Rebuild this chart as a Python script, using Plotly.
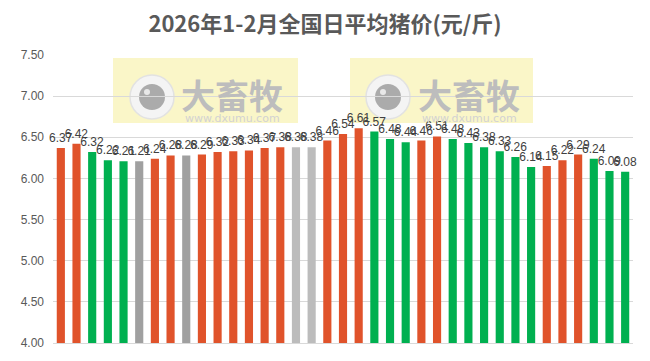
import plotly.graph_objects as go

# ---- data ----
days = list(range(1, 38))
prices = [6.37, 6.42, 6.32, 6.22, 6.21, 6.21, 6.24, 6.28, 6.28, 6.29,
          6.32, 6.33, 6.34, 6.37, 6.38, 6.38, 6.38, 6.46, 6.54, 6.61,
          6.57, 6.48, 6.44, 6.46, 6.51, 6.48, 6.43, 6.38, 6.33, 6.26,
          6.14, 6.15, 6.22, 6.29, 6.24, 6.09, 6.08]
labels = [f"{v:.2f}" for v in prices]
O, G, A, B = "#E0532B", "#00B050", "#A0A0A0", "#BCBCBC"
bar_colors = [O, O, G, G, G, A, O, O, A, O,
              O, O, O, O, O, B, B, O, O, O,
              G, G, G, O, O, G, G, G, G, G,
              G, O, O, O, G, G, G]
y_ticks = [4.0, 4.5, 5.0, 5.5, 6.0, 6.5, 7.0, 7.5]
title = "2026年1-2月全国日平均猪价(元/斤)"

W, H = 650, 361
L, R, T, B_ = 53, 17, 55, 18
pw, ph = W - L - R, H - T - B_

def px(x):
    return (x - L) / pw

def py(y):
    return (H - B_ - y) / ph

fig = go.Figure(go.Bar(
    x=days, y=prices, marker=dict(color=bar_colors, line=dict(width=0)),
    text=labels, textposition="outside", constraintext="none",
    textfont=dict(family="Liberation Sans", size=12, color="#404040"),
    cliponaxis=False, hoverinfo="skip"))

shapes, annotations = [], []
for (x0, x1, cx, tx) in [(113, 298, 152, 232), (350, 533, 388, 469)]:
    shapes.append(dict(type="rect", xref="paper", yref="paper", layer="below",
                       x0=px(x0), x1=px(x1), y0=py(123), y1=py(58),
                       fillcolor="#FAF6C8", line=dict(width=0)))
    cy = 97
    for r, col in [(22, "#F4F4F4"), (13, "#ABABAB")]:
        shapes.append(dict(type="circle", xref="paper", yref="paper", layer="below",
                           x0=px(cx - r), x1=px(cx + r), y0=py(cy + r), y1=py(cy - r),
                           fillcolor=col, line=dict(width=1.5 if r == 22 else 0, color="#E2E2E2")))
    shapes.append(dict(type="circle", xref="paper", yref="paper", layer="below",
                       x0=px(cx - 8), x1=px(cx - 2), y0=py(cy - 2), y1=py(cy - 8),
                       fillcolor="#E8E8E8", line=dict(width=0)))
    annotations.append(dict(text="<b>大畜牧</b>", xref="paper", yref="paper",
                            x=px(tx), y=py(95), xanchor="center", yanchor="middle",
                            showarrow=False,
                            font=dict(family="Noto Sans CJK SC", size=34, color="#BDBDBD")))
    annotations.append(dict(text="www.dxumu.com", xref="paper", yref="paper",
                            x=px(tx), y=py(118), xanchor="center", yanchor="middle",
                            showarrow=False,
                            font=dict(family="DejaVu Sans", size=11, color="#D2D2D2")))

fig.update_layout(
    width=W, height=H, margin=dict(l=L, r=R, t=T, b=B_),
    paper_bgcolor="white", plot_bgcolor="white",
    title=dict(text=f"<b>{title}</b>", x=0.5, xanchor="center", y=1 - 24 / H, yanchor="middle",
               font=dict(family="Noto Sans CJK SC", size=22, color="#595959")),
    bargap=0.48, showlegend=False,
    shapes=shapes, annotations=annotations,
    xaxis=dict(range=[0.5, 37.5], showticklabels=False, ticks="", showgrid=False,
               showline=True, linecolor="#D9D9D9", linewidth=1, zeroline=False, fixedrange=True),
    yaxis=dict(range=[4.0, 7.5], tickvals=y_ticks, ticktext=[f"{v:.2f}" for v in y_ticks],
               showgrid=True, gridcolor="#D9D9D9", gridwidth=1, zeroline=False,
               ticks="", ticklabelstandoff=8,
               tickfont=dict(family="Liberation Sans", size=12, color="#595959")),
)

fig.write_html("out.html", config={"displayModeBar": False},
               post_script="document.body.style.margin='0';")
